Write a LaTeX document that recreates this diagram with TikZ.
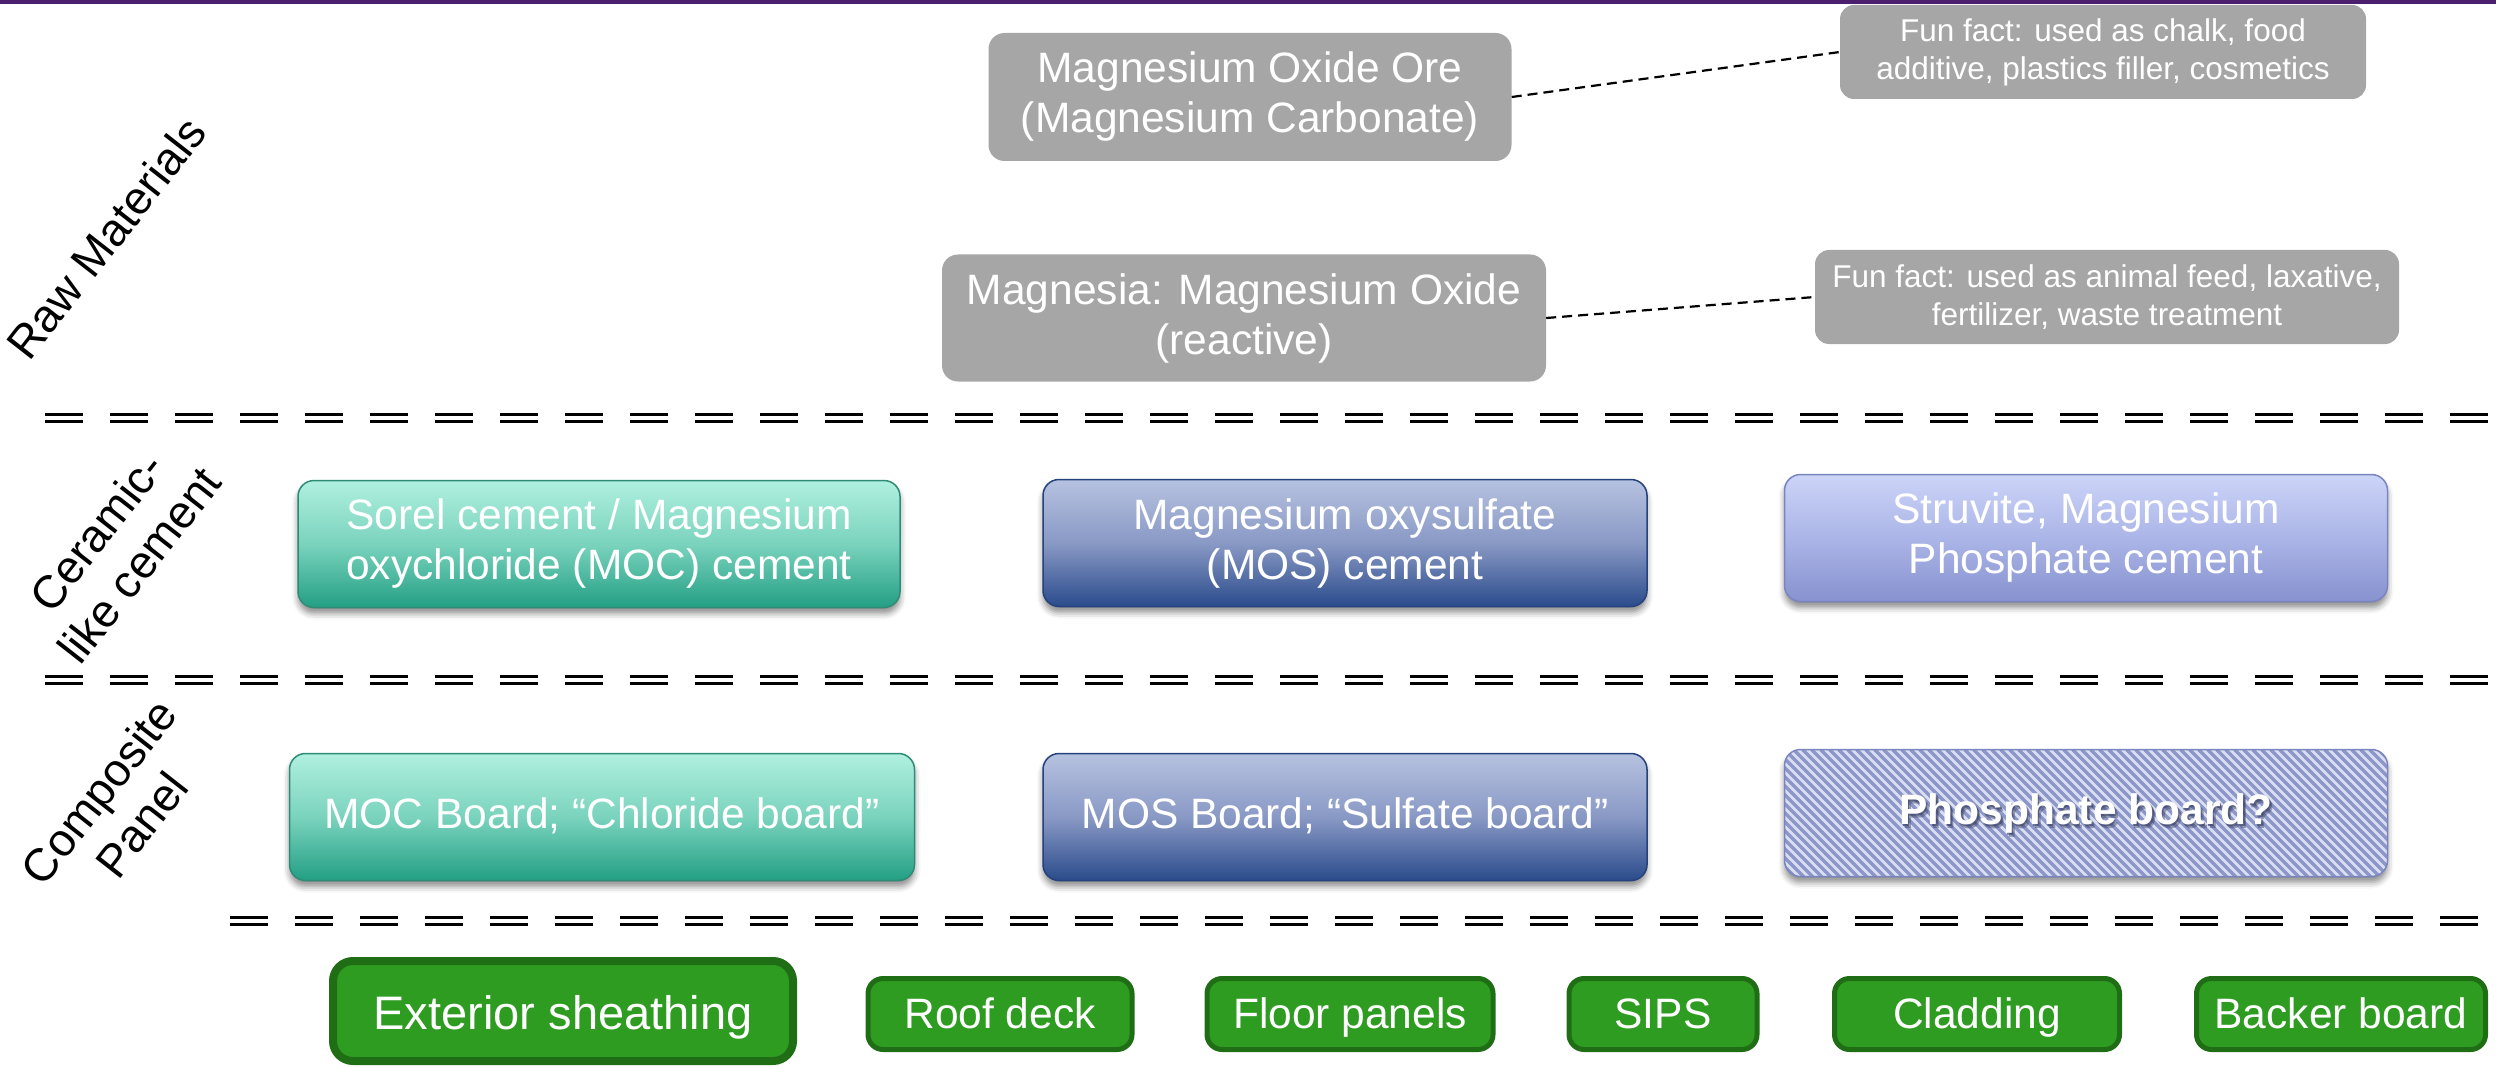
\documentclass[tikz,border=0pt]{standalone}
\usepackage{fontspec}
\setmainfont{Liberation Sans}
\usetikzlibrary{shadows.blur}
\definecolor{topbar}{HTML}{4B1F6E}
\definecolor{boxgray}{HTML}{A6A6A6}
\definecolor{tealtop}{HTML}{B0F0E0}
\definecolor{tealmid}{HTML}{7AD3BD}
\definecolor{tealbot}{HTML}{239F84}
\definecolor{tealedge}{HTML}{2E8C76}
\definecolor{bluetop}{HTML}{B6C2E0}
\definecolor{bluemid}{HTML}{8999C5}
\definecolor{bluebot}{HTML}{2A4B8B}
\definecolor{blueedge}{HTML}{26427D}
\definecolor{lavtop}{HTML}{CCD4F8}
\definecolor{lavmid}{HTML}{ABB5E7}
\definecolor{lavbot}{HTML}{8792CF}
\definecolor{lavedge}{HTML}{7A85BF}
\definecolor{hatchbg}{HTML}{DADEF2}
\definecolor{hatchline}{HTML}{8C97C9}
\definecolor{grfill}{HTML}{2E9C20}
\definecolor{gredge}{HTML}{1F6E16}
\definecolor{txtshadow}{HTML}{3A4266}
\begin{document}
\begin{tikzpicture}[x=1pt,y=1pt,
  basebox/.style={rounded corners=16pt, align=center, text=white, inner sep=0pt,
    font=\fontsize{42.5}{50}\selectfont},
  oneline/.style={text height=31pt, text depth=9pt},
  graybox/.style={basebox, fill=boxgray},
  factbox/.style={graybox, rounded corners=14pt, font=\fontsize{31.5}{38}\selectfont},
  soft/.style={blur shadow={shadow xshift=0pt, shadow yshift=-6pt, shadow blur radius=6pt, shadow opacity=45}},
  tealbox/.style={basebox, soft, top color=tealtop, bottom color=tealbot, middle color=tealmid, draw=tealedge, line width=1.5pt, minimum width=602pt, minimum height=127pt},
  bluebox/.style={basebox, soft, top color=bluetop, bottom color=bluebot, middle color=bluemid, draw=blueedge, line width=1.5pt, minimum width=604pt, minimum height=127pt},
  lavbox/.style={basebox, soft, top color=lavtop, bottom color=lavbot, middle color=lavmid, draw=lavedge, line width=1.5pt, minimum width=603pt, minimum height=127pt},
  hatchbox/.style={basebox, soft, oneline, fill=hatchbg, draw=lavedge, line width=1.5pt, minimum width=603pt, minimum height=127pt,
    font=\fontsize{42.5}{50}\selectfont\bfseries,
    path picture={
      \foreach \i in {-135,-126,...,615}
        \draw[line width=3.3pt, hatchline] ([xshift=\i pt]path picture bounding box.north west) -- ++(135pt,-135pt);
      \node[text=txtshadow, opacity=0.45, oneline, inner sep=0pt, font=\fontsize{42.5}{50}\selectfont\bfseries] at ([xshift=3pt,yshift=-4pt]path picture bounding box.center) {Phosphate board?};
      \node[text=txtshadow, opacity=0.6, oneline, inner sep=0pt, font=\fontsize{42.5}{50}\selectfont\bfseries] at ([xshift=1.5pt,yshift=-2pt]path picture bounding box.center) {Phosphate board?};
    }},
  grbox/.style={basebox, fill=grfill, draw=gredge, line width=5pt, rounded corners=15pt, minimum height=71pt, text height=34pt, text depth=6pt},
  sidelabel/.style={align=center, rotate=52, inner sep=0pt, font=\fontsize{46}{54}\selectfont},
  separator/.style={draw=black, line width=3.5pt, double=white, double distance=3.5pt, dash pattern=on 38pt off 27pt},
  factlink/.style={draw=black, line width=2.2pt, dash pattern=on 10pt off 6pt}
]
\useasboundingbox (0,0) rectangle (2496,-1067);
\fill[topbar] (0,0) rectangle (2496,-4);

% side labels
\node[sidelabel] (lraw) at (106,-238) {Raw Materials};
\node[sidelabel] (lcer) at (118,-548) {Ceramic-\\like cement};
\node[sidelabel] (lcomp) at (120,-808) {Composite\\Panel};

% separators
\coordinate (s1a) at (45,-418);  \coordinate (s1b) at (2496,-418);
\coordinate (s2a) at (45,-680);  \coordinate (s2b) at (2496,-680);
\coordinate (s3a) at (230,-921); \coordinate (s3b) at (2496,-921);
\draw[separator] (s1a) -- (s1b);
\draw[separator] (s2a) -- (s2b);
\draw[separator] (s3a) -- (s3b);

% raw materials
\node[graybox, minimum width=523pt, minimum height=128pt] (ore) at (1250,-97) {Magnesium Oxide Ore\\(Magnesium Carbonate)};
\node[graybox, minimum width=604pt, minimum height=127pt] (magnesia) at (1244,-318) {Magnesia: Magnesium Oxide\\(reactive)};
\node[factbox, minimum width=526pt, minimum height=94pt] (fact1) at (2103,-52) {Fun fact: used as chalk, food\\additive, plastics filler, cosmetics};
\node[factbox, minimum width=584pt, minimum height=94pt] (fact2) at (2107,-297) {Fun fact: used as animal feed, laxative,\\fertilizer, waste treatment};
\draw[factlink] (ore.east) -- (fact1.west);
\draw[factlink] (magnesia.east) -- (fact2.west);

% ceramic-like cement
\node[tealbox] (sorel) at (599,-544) {Sorel cement / Magnesium\\oxychloride (MOC) cement};
\node[bluebox] (moscem) at (1345,-543) {Magnesium oxysulfate\\(MOS) cement};
\node[lavbox] (struvite) at (2086,-538) {Struvite, Magnesium\\Phosphate cement};

% composite panel
\node[tealbox, oneline, minimum width=625pt] (mocb) at (602,-817) {MOC Board; “Chloride board”};
\node[bluebox, oneline] (mosb) at (1345,-817) {MOS Board; “Sulfate board”};
\node[hatchbox] (phosb) at (2086,-813) {Phosphate board?};

% applications
\node[grbox, line width=8pt, rounded corners=20pt, minimum width=460pt, minimum height=100pt, text height=40pt, text depth=4pt, font=\fontsize{47}{54}\selectfont] (ext) at (563,-1011) {Exterior sheathing};
\node[grbox, minimum width=264pt] (roof) at (1000,-1014) {Roof deck};
\node[grbox, minimum width=286pt] (floor) at (1350,-1014) {Floor panels};
\node[grbox, minimum width=188pt] (sips) at (1663,-1014) {SIPS};
\node[grbox, minimum width=285pt] (clad) at (1977,-1014) {Cladding};
\node[grbox, minimum width=289pt] (backer) at (2341,-1014) {Backer board};
\end{tikzpicture}
\end{document}
